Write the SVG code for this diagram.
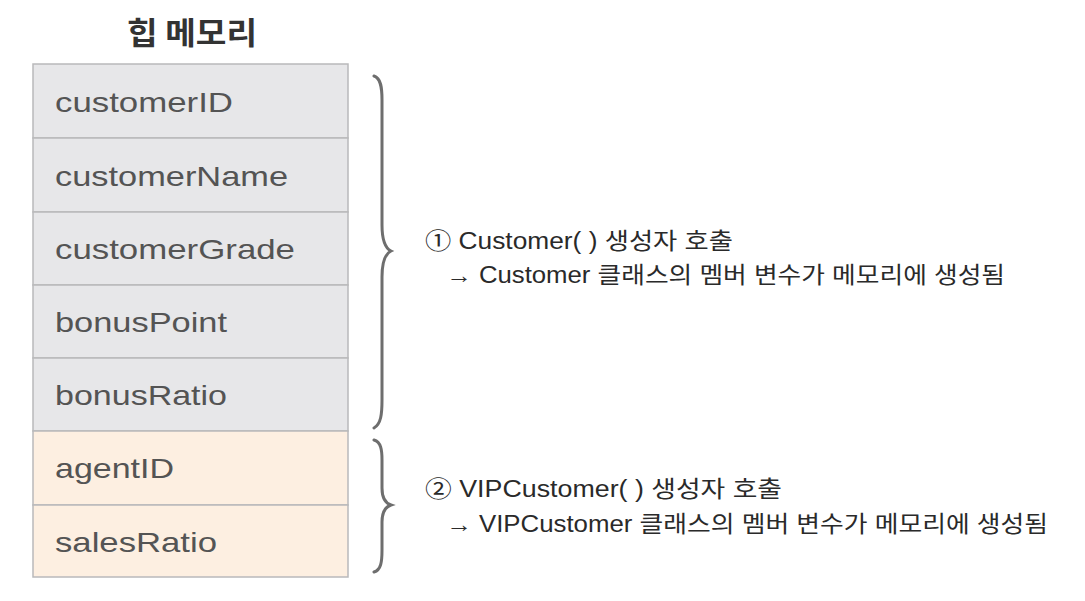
<svg xmlns="http://www.w3.org/2000/svg" width="1085" height="601" viewBox="0 0 1085 601">
<style>
.row-a{fill:#e7e7e9;stroke:#b9b9bb;stroke-width:1.5}
.row-b{fill:#fdefe1;stroke:#b9b9bb;stroke-width:1.5}
.cell{font-family:"Liberation Sans","Noto Sans CJK KR",sans-serif;font-size:28.5px;fill:#545454}
.title{font-family:"Noto Sans CJK KR",sans-serif;font-size:31px;font-weight:bold;fill:#333}
.note{font-family:"Liberation Sans","Noto Sans CJK KR",sans-serif;font-size:23px;fill:#2a2a2a}
.brace{fill:none;stroke:#6e6e6e;stroke-width:3;stroke-linecap:round}
</style>
<rect width="1085" height="601" fill="#ffffff"/>
<g id="title"><text class="title" x="127" y="44" textLength="130" lengthAdjust="spacingAndGlyphs">힙 메모리</text></g>
<g id="customerID"><rect class="row-a" x="33" y="64" width="315" height="74"/><text class="cell" x="55" y="112" textLength="178" lengthAdjust="spacingAndGlyphs">customerID</text></g>
<g id="customerName"><rect class="row-a" x="33" y="138" width="315" height="74"/><text class="cell" x="55" y="186" textLength="233" lengthAdjust="spacingAndGlyphs">customerName</text></g>
<g id="customerGrade"><rect class="row-a" x="33" y="212" width="315" height="73"/><text class="cell" x="55" y="259" textLength="240" lengthAdjust="spacingAndGlyphs">customerGrade</text></g>
<g id="bonusPoint"><rect class="row-a" x="33" y="285" width="315" height="73"/><text class="cell" x="55" y="332" textLength="172" lengthAdjust="spacingAndGlyphs">bonusPoint</text></g>
<g id="bonusRatio"><rect class="row-a" x="33" y="358" width="315" height="73"/><text class="cell" x="55" y="405" textLength="172" lengthAdjust="spacingAndGlyphs">bonusRatio</text></g>
<g id="agentID"><rect class="row-b" x="33" y="431" width="315" height="74"/><text class="cell" x="55" y="478" textLength="119" lengthAdjust="spacingAndGlyphs">agentID</text></g>
<g id="salesRatio"><rect class="row-b" x="33" y="505" width="315" height="72"/><text class="cell" x="55" y="552" textLength="162" lengthAdjust="spacingAndGlyphs">salesRatio</text></g>
<g id="connectors">
<path class="brace" d="M374,76 C381,78 382,88 382,100 L382,225 C382,240 385,248 391,251 C385,254 382,262 382,277 L382,400 C382,414 381,424 374,428"/>
<path class="brace" d="M374,440 C381,442 382,450 382,460 L382,488 C382,498 385,503 391,505 C385,507 382,512 382,522 L382,550 C382,562 381,570 374,572"/>
</g>
<g id="note1">
<text class="note" x="425" y="249" textLength="308" lengthAdjust="spacingAndGlyphs">① Customer( ) 생성자 호출</text>
<text class="note" x="446" y="283" textLength="559" lengthAdjust="spacingAndGlyphs">→ Customer 클래스의 멤버 변수가 메모리에 생성됨</text>
</g>
<g id="note2">
<text class="note" x="425" y="497" textLength="357" lengthAdjust="spacingAndGlyphs">② VIPCustomer( ) 생성자 호출</text>
<text class="note" x="446" y="532" textLength="602" lengthAdjust="spacingAndGlyphs">→ VIPCustomer 클래스의 멤버 변수가 메모리에 생성됨</text>
</g>
</svg>
